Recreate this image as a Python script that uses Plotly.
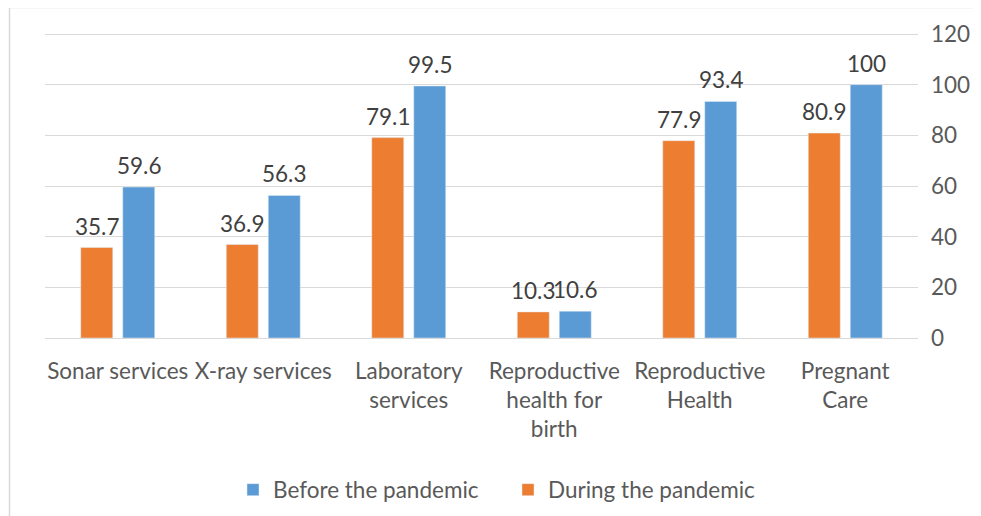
import plotly.graph_objects as go

categories = ["Sonar services", "X-ray services", "Laboratory<br>services",
              "Reproductive<br>health for<br>birth", "Reproductive<br>Health", "Pregnant<br>Care"]
during = [35.7, 36.9, 79.1, 10.3, 77.9, 80.9]
before = [59.6, 56.3, 99.5, 10.6, 93.4, 100]
y_ticks = [0, 20, 40, 60, 80, 100, 120]

FONT = "Lato, Open Sans, sans-serif"
GRAY = "#595959"
FS = 22.5

# page body has an 8px default margin; figure sized/placed to compensate
OFF = 8
W, H = 981 - OFF, 516 - OFF
L, R, T, B = 45 - OFF, 981 - 918, 33 - OFF, 516 - 338
pw, ph = W - L - R, H - T - B
BARGAP = 0.423
cat_w = pw / len(categories)
off = (1 - BARGAP) / 4 * cat_w

fig = go.Figure()
fig.add_trace(go.Bar(
    x=categories, y=during, name="During the pandemic",
    marker_color="#ED7D31", legendrank=2,
))
fig.add_trace(go.Bar(
    x=categories, y=before, name="Before the pandemic",
    marker_color="#5B9BD5", legendrank=1,
))

for vals, shift in ((during, -off), (before, off)):
    for c, v in zip(categories, vals):
        fig.add_annotation(
            x=c, y=v, xref="x", yref="y", text=f"{v:g}", showarrow=False,
            xshift=shift, yshift=6, yanchor="bottom", xanchor="center",
            font=dict(size=FS, color="#404040", family=FONT),
        )

def px_x(v):  # screen px -> paper
    return (v - OFF - L) / pw

def px_y(v):
    return (H - B - (v - OFF)) / ph

fig.update_layout(
    width=W, height=H,
    margin=dict(l=L, r=R, t=T, b=B, autoexpand=False),
    paper_bgcolor="white", plot_bgcolor="white",
    barmode="group", bargap=BARGAP, bargroupgap=0.238,
    font=dict(family=FONT, size=FS, color=GRAY),
    showlegend=True,
    legend=dict(
        orientation="h", x=px_x(233), xanchor="left",
        y=px_y(490), yanchor="middle",
        entrywidth=230, traceorder="normal",
        font=dict(size=FS, color=GRAY, family=FONT),
        bgcolor="rgba(0,0,0,0)",
    ),
    xaxis=dict(
        showgrid=False, showline=False, ticks="", automargin=False,
        tickfont=dict(size=FS, color=GRAY, family=FONT),
        ticklabelstandoff=17, tickangle=0,
    ),
    yaxis=dict(
        side="right", range=[0, 120.4], tickvals=y_ticks, automargin=False,
        showgrid=True, gridcolor="#d9d9d9", gridwidth=1,
        zeroline=True, zerolinecolor="#d9d9d9", zerolinewidth=1,
        showline=False, ticks="",
        tickfont=dict(size=FS, color=GRAY, family=FONT),
        ticklabelstandoff=12,
    ),
    shapes=[dict(
        type="rect", xref="paper", yref="paper",
        x0=px_x(9.5), x1=px_x(979), y0=px_y(530), y1=px_y(7.5),
        line=dict(color="#d9d9d9", width=1.5), fillcolor="rgba(0,0,0,0)",
        layer="below",
    )],
)

fig.write_html("out.html")
